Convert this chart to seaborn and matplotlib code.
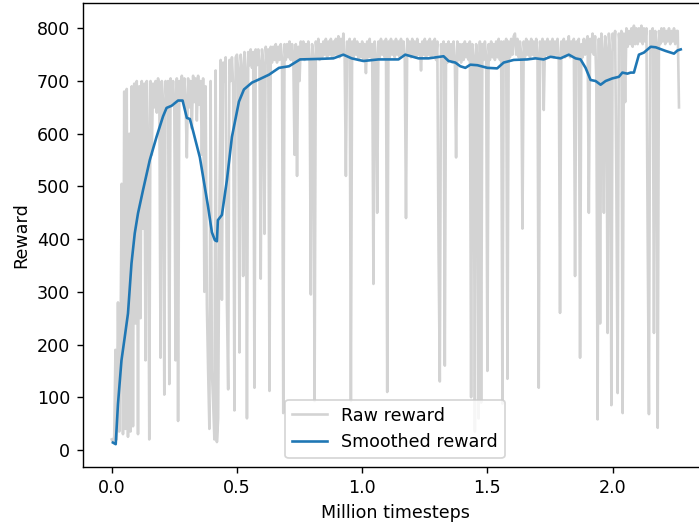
import numpy as np
import pandas as pd
import matplotlib
matplotlib.use("Agg")
import matplotlib.pyplot as plt
import seaborn as sns

# Raw episode reward, one value every 5000 timesteps (rows of 0.1 M steps)
raw_reward = [
    20, 15, 25, 190, 20, 280, 35, 200, 505, 30, 680, 40, 685, 25, 600, 35, 690, 45, 695, 240,
    700, 30, 690, 250, 700, 420, 695, 170, 700, 580, 20, 700, 560, 695, 650, 700, 640, 705, 690, 175,
    700, 660, 105, 700, 655, 700, 125, 705, 660, 700, 650, 170, 705, 55, 700, 665, 710, 660, 705, 660,
    555, 705, 650, 700, 610, 710, 660, 705, 625, 710, 655, 700, 560, 705, 300, 690, 275, 150, 40, 700,
    150, 90, 20, 720, 15, 60, 450, 740, 285, 735, 700, 745, 280, 115, 740, 700, 745, 690, 75, 745,
    750, 720, 185, 750, 725, 330, 755, 720, 60, 755, 730, 760, 725, 755, 118, 760, 730, 760, 735, 325,
    760, 730, 410, 765, 735, 760, 112, 765, 735, 765, 740, 770, 735, 765, 740, 770, 740, 70, 770, 740,
    770, 745, 775, 740, 770, 745, 560, 770, 520, 765, 700, 775, 745, 775, 740, 770, 745, 775, 740, 295,
    770, 745, 93, 775, 745, 780, 740, 770, 745, 775, 750, 780, 745, 775, 750, 780, 745, 775, 750, 780,
    750, 785, 745, 780, 750, 790, 745, 520, 775, 750, 780, 93, 775, 745, 780, 750, 775, 740, 770, 745,
    775, 740, 770, 715, 775, 745, 780, 745, 770, 315, 775, 745, 450, 775, 745, 780, 750, 775, 745, 780,
    110, 775, 745, 780, 750, 775, 745, 780, 750, 775, 745, 780, 750, 775, 745, 440, 780, 750, 775, 745,
    780, 750, 775, 745, 780, 750, 770, 720, 775, 750, 780, 745, 775, 750, 780, 745, 775, 750, 780, 740,
    775, 380, 130, 770, 740, 775, 160, 770, 735, 775, 740, 770, 735, 775, 740, 555, 775, 740, 770, 735,
    770, 740, 775, 745, 770, 740, 775, 100, 770, 745, 35, 770, 740, 60, 775, 90, 770, 740, 775, 745,
    150, 770, 740, 775, 745, 770, 740, 775, 745, 780, 740, 775, 88, 775, 745, 780, 135, 775, 745, 780,
    750, 785, 790, 750, 780, 745, 775, 750, 420, 775, 745, 780, 750, 775, 745, 780, 750, 775, 745, 780,
    750, 118, 775, 745, 780, 645, 775, 750, 780, 745, 775, 750, 780, 745, 775, 750, 780, 745, 260, 775,
    750, 780, 745, 775, 750, 785, 745, 775, 750, 780, 330, 775, 745, 780, 175, 770, 745, 780, 750, 775,
    785, 450, 780, 755, 790, 750, 785, 700, 58, 780, 240, 790, 755, 450, 785, 760, 222, 790, 750, 85,
    790, 760, 795, 500, 108, 790, 760, 795, 70, 790, 660, 800, 765, 795, 770, 800, 765, 805, 770, 800,
    770, 800, 775, 805, 770, 800, 775, 800, 400, 68, 795, 770, 800, 222, 795, 770, 42, 795, 770, 800,
    775, 800, 770, 795, 775, 800, 770, 795, 775, 800, 770, 795, 795, 650,
]
raw_step_size = 5000  # timesteps between logged episodes

# Smoothed reward (timesteps in millions, reward)
smooth_steps = [
    0.005, 0.016, 0.025, 0.039, 0.052, 0.065, 0.079, 0.092, 0.105, 0.125,
    0.152, 0.179, 0.205, 0.219, 0.239, 0.265, 0.283, 0.300, 0.312, 0.325,
    0.352, 0.385, 0.400, 0.412, 0.420, 0.424, 0.440, 0.460, 0.480, 0.508,
    0.528, 0.560, 0.588, 0.628, 0.668, 0.708, 0.752, 0.832, 0.885, 0.925,
    0.958, 1.005, 1.065, 1.092, 1.145, 1.172, 1.225, 1.265, 1.325, 1.345,
    1.372, 1.392, 1.412, 1.432, 1.460, 1.500, 1.539, 1.565, 1.605, 1.659,
    1.692, 1.725, 1.752, 1.792, 1.825, 1.852, 1.872, 1.892, 1.912, 1.932,
    1.952, 1.972, 1.999, 2.025, 2.039, 2.059, 2.072, 2.085, 2.092, 2.105,
    2.125, 2.152, 2.172, 2.212, 2.245, 2.259, 2.272,
]
smooth_reward = [
    14, 11, 87, 170, 214, 259, 354, 411, 449, 493,
    550, 594, 633, 649, 653, 663, 663, 630, 628, 605,
    555, 461, 413, 398, 396, 436, 446, 512, 594, 661,
    684, 697, 703, 712, 725, 728, 741, 742, 743, 750,
    743, 738, 741, 741, 741, 750, 743, 743, 747, 738,
    735, 728, 725, 731, 730, 725, 724, 735, 740, 741,
    743, 741, 746, 743, 750, 743, 741, 725, 702, 700,
    693, 700, 705, 708, 716, 714, 716, 716, 728, 750,
    754, 765, 764, 757, 752, 758, 760,
]

raw_df = pd.DataFrame({
    "steps": np.arange(len(raw_reward)) * raw_step_size / 1e6,
    "reward": raw_reward,
})
smooth_df = pd.DataFrame({"steps": smooth_steps, "reward": smooth_reward})

DPI = 125.7
fig = plt.figure(figsize=(699 / DPI, 523 / DPI), dpi=DPI)
# the reference figure is cropped on the right: the axes runs past the image edge
ax = fig.add_axes([82.7 / 699, 1 - 467 / 523, (707.3 - 82.7) / 699, (467 - 2.7) / 523])

sns.lineplot(data=raw_df, x="steps", y="reward", ax=ax, color="lightgray",
             linewidth=1.5, label="Raw reward", estimator=None, sort=False)
sns.lineplot(data=smooth_df, x="steps", y="reward", ax=ax, color="#1f77b4",
             linewidth=1.5, label="Smoothed reward", estimator=None, sort=False)

ax.set_xlim(-0.1158, 2.378)
ax.set_ylim(-32.3, 848.6)
ax.set_xticks([0.0, 0.5, 1.0, 1.5, 2.0])
ax.set_yticks([0, 100, 200, 300, 400, 500, 600, 700, 800])
ax.set_xlabel("Million timesteps")
ax.set_ylabel("Reward")
ax.legend(loc="lower center")

fig.savefig("out.png", dpi=DPI)
